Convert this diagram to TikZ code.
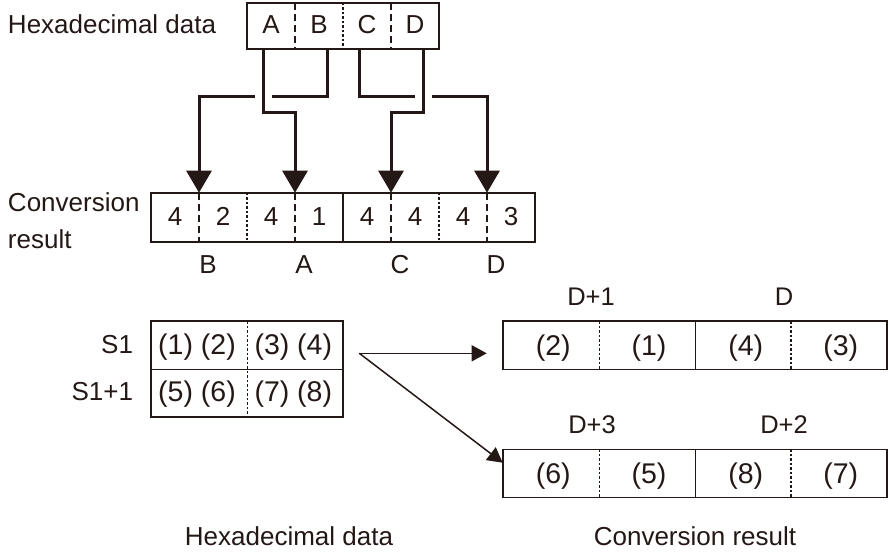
\documentclass[tikz,border=0pt]{standalone}
\usepackage{fontspec}
\setmainfont{Liberation Sans}
\usetikzlibrary{arrows.meta}
\definecolor{ink}{HTML}{231815}
\tikzset{
  frame/.style={draw=ink, line width=1.6pt},
  dashdiv/.style={draw=ink, line width=1.4pt, dash pattern=on 7pt off 4pt},
  dotdiv/.style={draw=ink, line width=1.4pt, dash pattern=on 2.5pt off 2pt},
  soliddiv/.style={draw=ink, line width=1.6pt},
  conn/.style={draw=ink, line width=3pt, -{Triangle[width=25pt,length=22pt]}},
  gap/.style={draw=white, line width=17pt},
  thinarrow/.style={draw=ink, line width=1.5pt, -{Triangle[width=16pt,length=15pt]}},
  txt/.style={inner sep=0pt, outer sep=0pt, text=ink, font=\fontsize{26}{30}\selectfont, anchor=base},
  ptxt/.style={txt, font=\fontsize{28.5}{32}\selectfont},
  dtxt/.style={txt, font=\fontsize{25.5}{29}\selectfont},
}
\begin{document}
\begin{tikzpicture}[x=1pt,y=-1pt]
\useasboundingbox (0,0) rectangle (888,551);

% ---------- top: hexadecimal data ----------
\node[txt, anchor=base west] (hexlbl) at (8,33.3) {Hexadecimal data};
\draw[frame] (247,3) rectangle (439,49.3);
\draw[dashdiv] (295,3) -- (295,49.3);
\draw[dotdiv] (343,3) -- (343,49.3);
\draw[dashdiv] (391,3) -- (391,49.3);
\node[txt] (tA) at (271,33.3) {A};
\node[txt] (tB) at (319,33.3) {B};
\node[txt] (tC) at (367,33.3) {C};
\node[txt] (tD) at (415,33.3) {D};

\coordinate (sA) at (263,49.3);
\coordinate (sB) at (327,49.3);
\coordinate (sC) at (359,49.3);
\coordinate (sD) at (423,49.3);
\coordinate (rB) at (199,192.7);
\coordinate (rA) at (295,192.7);
\coordinate (rD) at (391,192.7);
\coordinate (rC) at (487,192.7);

% B then A (A crosses over B)
\draw[conn] (sB) -- ++(0,47.4) -| (rB);
\draw[gap] (263,90) -- (263,104);
\draw[conn] (sA) -- ++(0,63.4) -| (rA);
% C then D
\draw[conn] (sC) -- ++(0,47.4) -| (rC);
\draw[gap] (423,90) -- (423,104);
\draw[conn] (sD) -- ++(0,63.4) -| (rD);

% ---------- conversion result ----------
\node[txt, anchor=base west] (convlbl) at (8,211.7) {Conversion};
\node[txt, anchor=base west] (reslbl) at (8,248.5) {result};
\draw[frame] (151,192.7) rectangle (535,241.7);
\draw[dashdiv] (199,192.7) -- (199,241.7);
\draw[dotdiv] (247,192.7) -- (247,241.7);
\draw[dashdiv] (295,192.7) -- (295,241.7);
\draw[soliddiv] (343,192.7) -- (343,241.7);
\draw[dashdiv] (391,192.7) -- (391,241.7);
\draw[dotdiv] (439,192.7) -- (439,241.7);
\draw[dashdiv] (487,192.7) -- (487,241.7);
\node[txt] (c1) at (175,225) {4};
\node[txt] (c2) at (223,225) {2};
\node[txt] (c3) at (271,225) {4};
\node[txt] (c4) at (319,225) {1};
\node[txt] (c5) at (367,225) {4};
\node[txt] (c6) at (415,225) {4};
\node[txt] (c7) at (463,225) {4};
\node[txt] (c8) at (511,225) {3};
\node[txt] (lB) at (208,273.3) {B};
\node[txt] (lA) at (304,273.3) {A};
\node[txt] (lC) at (400,273.3) {C};
\node[txt] (lD) at (496,273.3) {D};

% ---------- lower left: S1 ----------
\node[txt, anchor=base east] (s1) at (133,353.3) {S1};
\node[txt, anchor=base east] (s11) at (133,400.7) {S1+1};
\draw[frame] (151,321) rectangle (343,416.7);
\draw[frame] (151,369.3) -- (343,369.3);
\draw[dotdiv] (247.3,321) -- (247.3,416.7);
\node[ptxt] (p12) at (197,354) {(1) (2)};
\node[ptxt] (p34) at (293.3,354) {(3) (4)};
\node[ptxt] (p56) at (197,401) {(5) (6)};
\node[ptxt] (p78) at (293.3,401) {(7) (8)};

% ---------- arrows ----------
\coordinate (src) at (359.3,353.3);
\coordinate (dst1) at (486.7,353.3);
\coordinate (dst2) at (502.7,462.7);
\draw[thinarrow] (src) -- (dst1);
\draw[thinarrow] (src) -- (dst2);

% ---------- right boxes ----------
\node[dtxt] (d1) at (591,305) {D+1};
\node[dtxt] (d0) at (784,305) {D};
\draw[frame] (503,321) rectangle (887,369.3);
\draw[dotdiv] (599.3,321) -- (599.3,369.3);
\draw[soliddiv] (695.3,321) -- (695.3,369.3);
\draw[dotdiv] (791,321) -- (791,369.3);
\node[ptxt] (r2) at (553.3,355) {(2)};
\node[ptxt] (r1) at (649,355) {(1)};
\node[ptxt] (r4) at (745.7,355) {(4)};
\node[ptxt] (r3) at (840.7,355) {(3)};

\node[dtxt] (d3) at (592,433.3) {D+3};
\node[dtxt] (d2) at (784,433.3) {D+2};
\draw[frame] (503,449.3) rectangle (887,497.3);
\draw[dotdiv] (599.3,449.3) -- (599.3,497.3);
\draw[soliddiv] (695.3,449.3) -- (695.3,497.3);
\draw[dotdiv] (791,449.3) -- (791,497.3);
\node[ptxt] (r6) at (553.3,483) {(6)};
\node[ptxt] (r5) at (649,483) {(5)};
\node[ptxt] (r8) at (745.7,483) {(8)};
\node[ptxt] (r7) at (840.7,483) {(7)};

% ---------- bottom captions ----------
\node[txt] (caphex) at (289,545) {Hexadecimal data};
\node[txt] (capconv) at (695,545) {Conversion result};
\end{tikzpicture}
\end{document}
